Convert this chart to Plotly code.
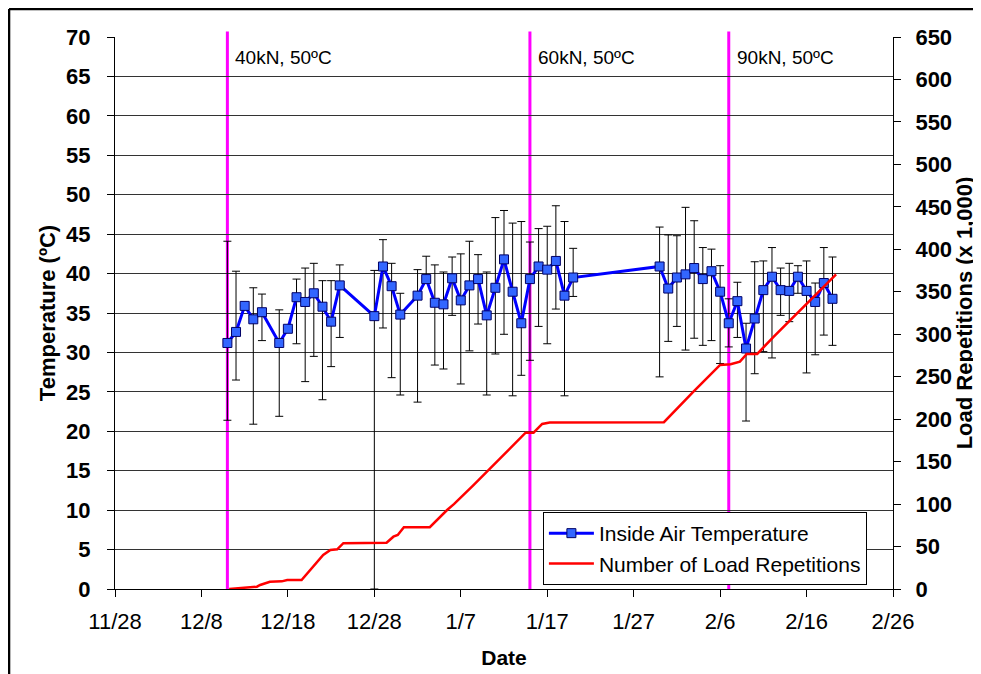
import plotly.graph_objects as go

# inside air temperature, daily mean with error bars (deg C)
temp_dates = [
    "2003-12-11", "2003-12-12", "2003-12-13", "2003-12-14", "2003-12-15",
    "2003-12-17", "2003-12-18", "2003-12-19", "2003-12-20", "2003-12-21",
    "2003-12-22", "2003-12-23", "2003-12-24", "2003-12-28", "2003-12-29",
    "2003-12-30", "2003-12-31", "2004-01-02", "2004-01-03", "2004-01-04",
    "2004-01-05", "2004-01-06", "2004-01-07", "2004-01-08", "2004-01-09",
    "2004-01-10", "2004-01-11", "2004-01-12", "2004-01-13", "2004-01-14",
    "2004-01-15", "2004-01-16", "2004-01-17", "2004-01-18", "2004-01-19",
    "2004-01-20", "2004-01-30", "2004-01-31", "2004-02-01", "2004-02-02",
    "2004-02-03", "2004-02-04", "2004-02-05", "2004-02-06", "2004-02-07",
    "2004-02-08", "2004-02-09", "2004-02-10", "2004-02-11", "2004-02-12",
    "2004-02-13", "2004-02-14", "2004-02-15", "2004-02-16", "2004-02-17",
    "2004-02-18", "2004-02-19",
]
temp_mean = [
    31.2, 32.6, 35.9, 34.2, 35.1, 31.2, 33.0, 37.0, 36.4, 37.5,
    35.8, 33.9, 38.5, 34.6, 40.9, 38.4, 34.8, 37.2, 39.3, 36.3,
    36.1, 39.4, 36.6, 38.5, 39.3, 34.7, 38.2, 41.8, 37.7, 33.7,
    39.3, 40.9, 40.5, 41.6, 37.2, 39.5, 40.9, 38.1, 39.5, 39.9,
    40.7, 39.3, 40.3, 37.7, 33.7, 36.5, 30.5, 34.3, 37.9, 39.6,
    37.9, 37.8, 39.6, 37.8, 36.4, 38.8, 36.8,
]
temp_err_up = [
    12.9, 7.7, 0.0, 4.0, 2.3, 4.2, 0.0, 2.3, 4.3, 3.8,
    3.3, 5.2, 2.6, 5.8, 3.4, 2.9, 2.7, 3.3, 2.9, 4.8,
    4.1, 2.7, 5.9, 5.6, 3.1, 5.5, 8.9, 6.2, 8.7, 12.9,
    4.7, 4.8, 5.5, 7.0, 9.4, 3.7, 5.0, 6.8, 5.3, 8.5,
    6.0, 4.0, 2.8, 3.3, 3.1, 2.4, 3.2, 7.2, 3.7, 3.7,
    2.8, 3.5, 1.4, 3.8, 2.4, 4.5, 5.3,
]
temp_err_down = [
    9.8, 6.1, 0.0, 13.3, 3.6, 9.3, 0.0, 5.9, 10.1, 8.0,
    11.8, 5.7, 6.6, 34.6, 7.8, 11.6, 10.2, 13.5, 0.0, 7.9,
    8.2, 4.7, 10.6, 8.3, 5.7, 10.1, 8.4, 9.5, 13.2, 6.6,
    10.3, 7.6, 9.4, 6.1, 12.7, 2.4, 14.0, 6.7, 6.2, 9.6,
    8.9, 8.4, 8.8, 9.1, 3.0, 4.6, 9.2, 7.0, 7.8, 10.3,
    3.2, 3.9, 2.1, 10.4, 6.7, 6.6, 5.9,
]

# cumulative load repetitions (x 1,000)
load_dates = [
    "2003-12-11 05:00", "2003-12-14 10:00", "2003-12-14 19:00", "2003-12-15 22:00",
    "2003-12-17 07:00", "2003-12-17 22:00", "2003-12-19 14:00", "2003-12-22 02:00",
    "2003-12-22 22:00", "2003-12-23 17:00", "2003-12-24 10:00", "2003-12-29 10:00",
    "2003-12-30 05:00", "2003-12-30 17:00", "2003-12-31 10:00", "2004-01-03 10:00",
    "2004-01-05 10:00", "2004-01-06 05:00", "2004-01-08 12:00", "2004-01-10 00:00",
    "2004-01-12 07:00", "2004-01-14 12:00", "2004-01-15 10:00", "2004-01-16 10:00",
    "2004-01-17 07:00", "2004-01-30 12:00", "2004-02-02 22:00", "2004-02-06 00:00",
    "2004-02-07 05:00", "2004-02-08 07:00", "2004-02-09 02:00", "2004-02-10 07:00",
    "2004-02-12 05:00", "2004-02-15 17:00", "2004-02-19 10:00",
]
load_reps = [
    0, 2.7, 4.7, 8.6, 9.0, 10.6, 10.6, 40.0, 46.0, 46.7,
    54.0, 54.5, 61.6, 63.6, 72.7, 72.7, 93.0, 100.0, 122.5, 138.0,
    160.5, 184.0, 184.0, 194.3, 196.0, 196.4, 232.4, 263.9, 264.7, 267.8,
    276.8, 276.8, 297.2, 332.5, 370.6,
]

# load level changes
phase_dates = ["2003-12-11", "2004-01-15", "2004-02-07"]
phase_labels = ["40kN, 50ºC", "60kN, 50ºC", "90kN, 50ºC"]

tick_dates = ["2003-11-28", "2003-12-08", "2003-12-18", "2003-12-28", "2004-01-07",
              "2004-01-17", "2004-01-27", "2004-02-06", "2004-02-16", "2004-02-26"]

FONT = "Liberation Sans, Arial, sans-serif"

fig = go.Figure()

fig.add_trace(go.Scatter(
    x=temp_dates, y=temp_mean, name="Inside Air Temperature",
    mode="lines+markers",
    line={"color": "#0000FF", "width": 3},
    marker={"symbol": "square", "size": 9, "color": "#3366FF",
            "line": {"color": "#000066", "width": 1}},
    error_y={"type": "data", "symmetric": False,
             "array": temp_err_up, "arrayminus": temp_err_down,
             "color": "black", "thickness": 1, "width": 4},
))

fig.add_trace(go.Scatter(
    x=load_dates, y=load_reps, name="Number of Load Repetitions",
    mode="lines", yaxis="y2",
    line={"color": "#FF0000", "width": 2.5},
))

for d, label in zip(phase_dates, phase_labels):
    fig.add_shape(type="line", xref="x", yref="paper", x0=d, x1=d, y0=0, y1=1.01,
                  line={"color": "#FF00FF", "width": 3}, layer="between")
    fig.add_annotation(x=d, y=0.962, xref="x", yref="paper", text=label,
                       showarrow=False, xanchor="left", yanchor="middle", xshift=6,
                       font={"size": 19, "color": "black", "family": FONT})

# outer chart frame: only the left and top edges are inside the page
fig.add_shape(type="line", xref="paper", yref="paper",
              x0=-0.1362, x1=-0.1362, y0=-0.2, y1=1.0507,
              line={"color": "black", "width": 2.5}, layer="above")
fig.add_shape(type="line", xref="paper", yref="paper",
              x0=-0.1362, x1=1.2, y0=1.0507, y1=1.0507,
              line={"color": "black", "width": 2.5}, layer="above")

fig.update_layout(
    width=973, height=666,
    margin={"l": 107, "r": 88, "t": 29, "b": 85},
    paper_bgcolor="white",
    plot_bgcolor="white",
    font={"family": FONT, "color": "black"},
    showlegend=True,
    legend={
        "x": 0.55, "y": 0.1395, "xanchor": "left", "yanchor": "top",
        "bgcolor": "white", "bordercolor": "black", "borderwidth": 1,
        "font": {"size": 21, "family": FONT},
        "itemwidth": 45,
        "tracegroupgap": 0,
    },
    xaxis={
        "type": "date",
        "range": ["2003-11-28", "2004-02-26"],
        "tickvals": tick_dates,
        "tickformat": "%-m/%-d",
        "tickprefix": "<b>", "ticksuffix": "</b>",
        "tickfont": {"size": 22, "family": FONT},
        "showgrid": False,
        "showline": True, "linecolor": "black", "linewidth": 1,
        "ticks": "outside", "ticklen": 7, "tickcolor": "black",
        "ticklabelstandoff": 6,
        "title": {"text": "<b>Date</b>", "font": {"size": 21}, "standoff": 16},
        "zeroline": False,
        "automargin": False,
    },
    yaxis={
        "range": [0, 70], "dtick": 5,
        "tickfont": {"size": 22, "family": FONT},
        "tickprefix": "<b>", "ticksuffix": "</b>",
        "showgrid": True, "gridcolor": "#333333", "gridwidth": 1,
        "showline": True, "linecolor": "black", "linewidth": 1,
        "ticks": "outside", "ticklen": 7, "tickcolor": "black",
        "ticklabelstandoff": 12,
        "title": {"text": "<b>Temperature (ºC)</b>", "font": {"size": 22}, "standoff": 4},
        "zeroline": False,
        "automargin": False,
    },
    yaxis2={
        "range": [0, 650], "dtick": 50,
        "overlaying": "y", "side": "right",
        "tickfont": {"size": 22, "family": FONT},
        "tickprefix": "<b>", "ticksuffix": "</b>",
        "showgrid": False,
        "showline": True, "linecolor": "black", "linewidth": 1,
        "ticks": "outside", "ticklen": 7, "tickcolor": "black",
        "ticklabelstandoff": 10,
        "title": {"text": "<b>Load Repetitions (x 1,000)</b>", "font": {"size": 22}, "standoff": 0},
        "zeroline": False,
        "automargin": False,
    },
)

fig.write_html("out.html")
